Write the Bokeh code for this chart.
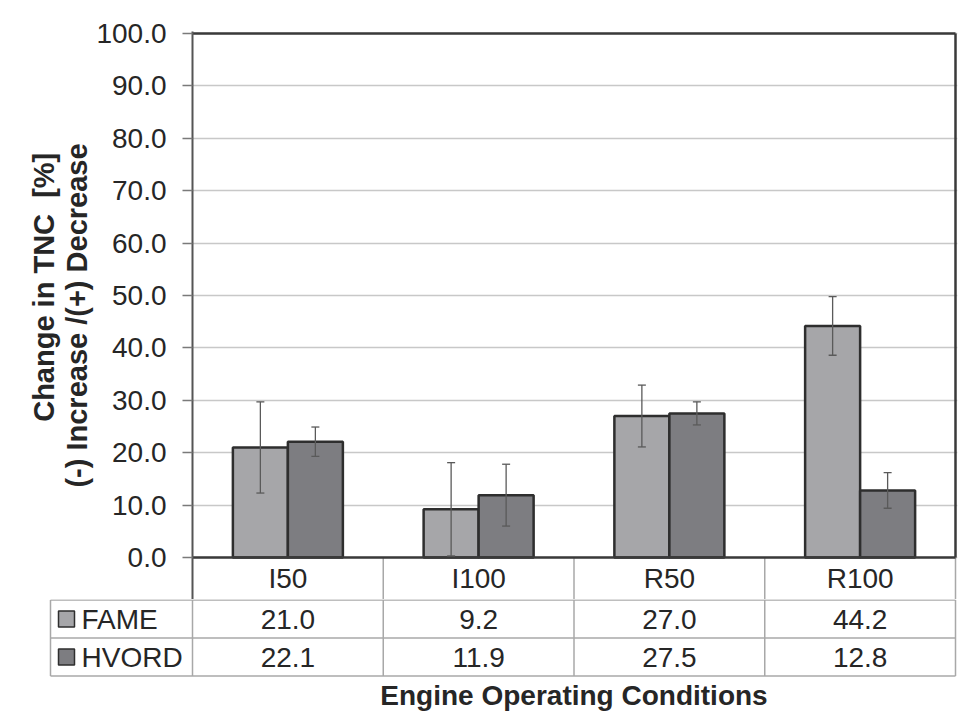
from bokeh.plotting import figure
from bokeh.models import (Range1d, FixedTicker, PrintfTickFormatter, ColumnDataSource,
                          Whisker, TeeHead, Label)
from bokeh.layouts import column
from bokeh.embed import file_html
from bokeh.resources import INLINE
from bokeh.core.properties import value
import numpy as np

# ---------------- data ----------------
categories = ["I50", "I100", "R50", "R100"]
series_names = ["FAME", "HVORD"]
fame = [21.0, 9.2, 27.0, 44.2]
hvord = [22.1, 11.9, 27.5, 12.8]
fame_err = [8.7, 8.9, 5.9, 5.6]
hvord_err = [2.8, 5.9, 2.2, 3.4]
y_ticks = [0, 10, 20, 30, 40, 50, 60, 70, 80, 90, 100]
NB = "\u00a0"
y_label = NB * 7 + "Change in TNC" + NB * 2 + "[%]\n(-) Increase /(+) Decrease"
x_label = "Engine Operating Conditions"

# ---------------- style ----------------
FONT = "Liberation Sans"
TEXT = "#262626"
FAME_COLOR = "#a6a6a9"
HVORD_COLOR = "#7d7d81"
EDGE = "#2e2e2e"
ERR = "#5a5a5a"
GRID = "#c8c8c8"
SPINE = "#3a3a3a"
TABLE_LINE = "#a8a8a8"
series_colors = [FAME_COLOR, HVORD_COLOR]

W = 958
PX_CAT = 190.75          # px per category
PX_Y = 5.24              # px per y unit
LEFT = 192               # frame left (px)
CH = 599                 # chart figure height
n = len(categories)
rows = len(series_names)
x_end = n + 2 / PX_CAT

# ---------------- chart figure ----------------
p = figure(width=W, height=CH, x_range=Range1d(0, x_end),
           y_range=Range1d(-42 / PX_Y, y_ticks[-1] + 2 / PX_Y),
           x_axis_location=None, toolbar_location=None, output_backend="svg",
           min_border_left=LEFT, min_border_right=1, min_border_top=31, min_border_bottom=0,
           frame_align=False)
p.outline_line_color = None
p.background_fill_color = "white"
p.border_fill_color = "white"
p.xgrid.grid_line_color = None
p.ygrid.ticker = FixedTicker(ticks=y_ticks)
p.ygrid.grid_line_color = GRID
p.ygrid.grid_line_width = 1.5

ya = p.yaxis[0]
ya.ticker = FixedTicker(ticks=y_ticks)
ya.formatter = PrintfTickFormatter(format="%.1f")
ya.major_label_text_font = FONT
ya.major_label_text_font_size = "28px"
ya.major_label_text_color = TEXT
ya.major_label_standoff = 16
ya.major_tick_out = 10
ya.major_tick_in = 0
ya.major_tick_line_color = "#7a7a7a"
ya.major_tick_line_width = 1.5
ya.minor_tick_line_color = None
ya.axis_line_color = "#555555"
ya.axis_line_width = 2
ya.axis_label = y_label
ya.axis_label_text_font = FONT
ya.axis_label_text_font_style = "bold"
ya.axis_label_text_font_size = "29px"
ya.axis_label_text_line_height = 1.05
ya.axis_label_text_color = TEXT
ya.axis_label_standoff = 0

idx = np.arange(n)
centers = idx + 0.5
bar_w = 55 / PX_CAT
fame_a = np.array(fame)
hvord_a = np.array(hvord)
src = ColumnDataSource(dict(
    xf=centers - bar_w / 2, xh=centers + bar_w / 2,
    fame=fame_a, hvord=hvord_a,
    fu=fame_a + np.array(fame_err), fl=fame_a - np.array(fame_err),
    hu=hvord_a + np.array(hvord_err), hl=hvord_a - np.array(hvord_err),
))
p.vbar(x="xf", top="fame", bottom=0, width=bar_w, source=src,
       fill_color=FAME_COLOR, line_color=EDGE, line_width=2.5)
p.vbar(x="xh", top="hvord", bottom=0, width=bar_w, source=src,
       fill_color=HVORD_COLOR, line_color=EDGE, line_width=2.5)

for base, up, lo in (("xf", "fu", "fl"), ("xh", "hu", "hl")):
    p.add_layout(Whisker(source=src, base=base, upper=up, lower=lo, level="overlay",
                         line_color=ERR, line_width=1.3,
                         upper_head=TeeHead(size=8, line_color=ERR, line_width=1.3),
                         lower_head=TeeHead(size=8, line_color=ERR, line_width=1.3)))

bounds = np.arange(n + 1)
y_lo = -42 / PX_Y
ymax = y_ticks[-1]
# category row dividers
p.segment(x0=bounds[1:], y0=[y_lo] * n, x1=bounds[1:], y1=[0] * n,
          line_color=TABLE_LINE, line_width=1.5)
# frame spines
p.segment(x0=[0, 0, n], y0=[0, ymax, 0], x1=[n, n, n], y1=[0, ymax, ymax],
          line_color=SPINE, line_width=2.5)
# category labels
p.text(x=centers, y=[-21 / PX_Y] * n, text=categories,
       text_font=value(FONT), text_font_size=value("28px"), text_color=TEXT,
       text_align="center", text_baseline="middle")

# ---------------- table figure ----------------
RH = 38.0  # px per row
TH = 119
t_left = 48
t = figure(width=W, height=TH, x_range=Range1d(-(LEFT - t_left) / PX_CAT, x_end),
           y_range=Range1d(-(TH - 0.5) / RH, 0.5 / RH),
           x_axis_location=None, y_axis_location=None, toolbar_location=None,
           output_backend="svg", min_border_left=t_left, min_border_right=1,
           min_border_top=0, min_border_bottom=0, frame_align=False)
t.outline_line_color = None
t.xgrid.grid_line_color = None
t.ygrid.grid_line_color = None
t.background_fill_color = "white"
t.border_fill_color = "white"

left_x = -(LEFT - 50) / PX_CAT
row_lines = -np.arange(rows + 1)
t.segment(x0=[left_x] * (rows + 1), y0=row_lines, x1=[n] * (rows + 1), y1=row_lines,
          line_color=TABLE_LINE, line_width=1.5)
vx = np.concatenate([[left_x], bounds])
t.segment(x0=vx, y0=[0] * len(vx), x1=vx, y1=[-rows] * len(vx),
          line_color=TABLE_LINE, line_width=1.5)

row_y = -np.arange(rows) - 0.5
t.rect(x=[-(LEFT - 66) / PX_CAT] * rows, y=row_y, width=16, height=16,
       width_units="screen", height_units="screen",
       fill_color=series_colors, line_color=EDGE, line_width=1.5)
t.text(x=[-(LEFT - 81) / PX_CAT] * rows, y=row_y, text=series_names,
       text_font=value(FONT), text_font_size=value("28px"), text_color=TEXT,
       text_align="left", text_baseline="middle")

vals = [fame, hvord]
tx, ty, tt = [], [], []
for r in range(rows):
    for i in range(n):
        tx.append(centers[i]); ty.append(row_y[r]); tt.append("%.1f" % vals[r][i])
t.text(x=tx, y=ty, text=tt, text_font=value(FONT), text_font_size=value("28px"),
       text_color=TEXT, text_align="center", text_baseline="middle")

t.add_layout(Label(x=n / 2, y=-(96 - 0.5) / RH, text=x_label, text_font=FONT,
                   text_font_size="28px", text_font_style="bold", text_color=TEXT,
                   text_align="center", text_baseline="middle"))

layout = column(p, t, spacing=0)
open("out.html", "w").write(file_html(layout, INLINE))
